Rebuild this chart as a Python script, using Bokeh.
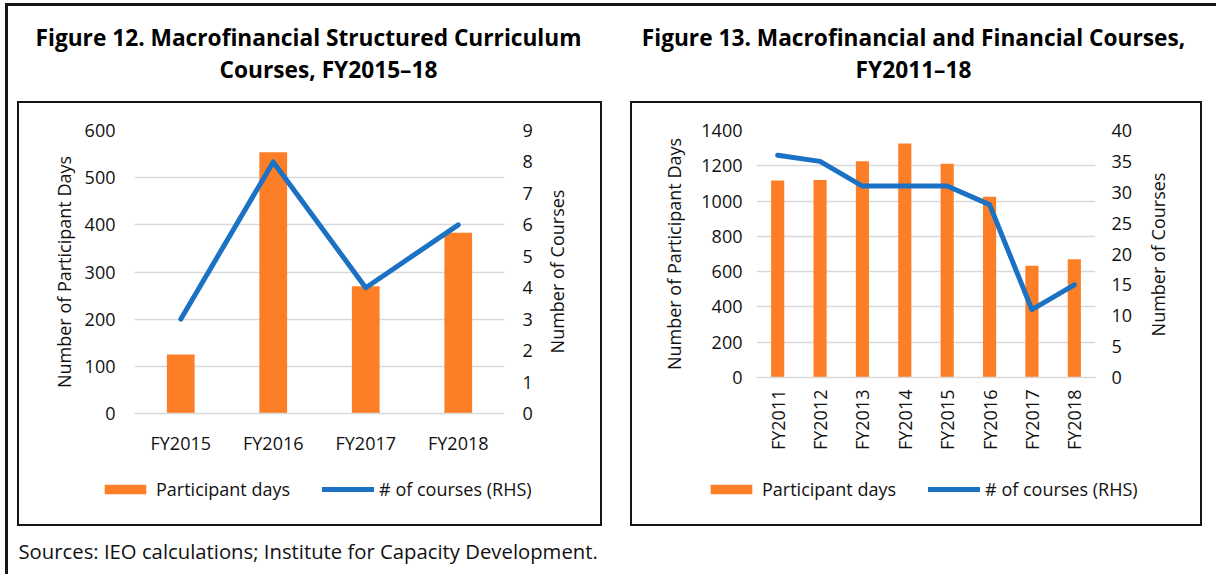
import math
from bokeh.plotting import figure
from bokeh.models import (Range1d, LinearAxis, FixedTicker, Legend, LegendItem,
                          Label, Spacer, FactorRange)
from bokeh.layouts import column, row
from bokeh.embed import file_html
from bokeh.resources import INLINE

# ---------------- data ----------------
fig12_years = ["FY2015", "FY2016", "FY2017", "FY2018"]
fig12_participant_days = [125, 554, 270, 383]
fig12_courses = [3, 8, 4, 6]
fig12_left_ticks = [0, 100, 200, 300, 400, 500, 600]
fig12_right_ticks = [0, 1, 2, 3, 4, 5, 6, 7, 8, 9]

fig13_years = ["FY2011", "FY2012", "FY2013", "FY2014",
               "FY2015", "FY2016", "FY2017", "FY2018"]
fig13_participant_days = [1117, 1119, 1226, 1326, 1211, 1025, 634, 670]
fig13_courses = [36, 35, 31, 31, 31, 28, 11, 15]
fig13_left_ticks = [0, 200, 400, 600, 800, 1000, 1200, 1400]
fig13_right_ticks = [0, 5, 10, 15, 20, 25, 30, 35, 40]

title12_lines = ["Figure 12. Macrofinancial Structured Curriculum",
                 "Courses, FY2015\u201318"]
title13_lines = ["Figure 13. Macrofinancial and Financial Courses,",
                 "FY2011\u201318"]
footnote = "Sources: IEO calculations; Institute for Capacity Development."
left_label = "Number of Participant Days"
right_label = "Number of Courses"
legend_labels = ["Participant days", "# of courses (RHS)"]

# ---------------- style ----------------
FONT = "Open Sans"
ORANGE = "#FC7F27"
BLUE = "#1B72C4"
GRID = "#D9D9D9"
TXT = "#111111"
BOX = "#151515"
FS = "18px"


def no_align(f):
    if "frame_align" in f.properties():
        f.frame_align = False
    return f


def bar(w, h, color=BOX):
    return Spacer(width=w, height=h, styles={"background-color": color})


def add_series(f, years, days, courses, bar_w, right_name=None):
    r_bar = f.vbar(x=years, top=days, width=bar_w, color=ORANGE, line_color=None)
    kw = {"y_range_name": right_name} if right_name else {}
    r_line = f.line(x=years, y=courses, line_color=BLUE, line_width=5,
                    line_cap="round", line_join="round", **kw)
    return r_bar, r_line


def blank_fig(width, height, x_range=None, y_range=None):
    f = figure(width=width, height=height, title=None,
               x_range=x_range if x_range is not None else Range1d(0, 1),
               y_range=y_range if y_range is not None else Range1d(0, 1),
               output_backend="svg", toolbar_location=None, min_border=0,
               x_axis_location=None, y_axis_location=None,
               background_fill_color="white", border_fill_color="white")
    no_align(f)
    f.outline_line_color = None
    f.grid.visible = False
    return f


def make_chart(years, days, courses, left_ticks, right_ticks, width, height,
               b_left, b_right, b_top, b_bottom, bar_w, rotate,
               xlab_standoff, left_std, left_lab_std, right_std):
    p = figure(x_range=years, width=width, height=height, title=None,
               y_range=Range1d(0, left_ticks[-1]),
               output_backend="svg", toolbar_location=None,
               min_border_left=b_left, min_border_right=b_right,
               min_border_top=b_top, min_border_bottom=b_bottom,
               background_fill_color="white", border_fill_color="white")
    no_align(p)
    p.outline_line_color = None
    p.extra_y_ranges = {"right": Range1d(0, right_ticks[-1])}

    add_series(p, years, days, courses, bar_w, "right")

    p.xgrid.grid_line_color = None
    p.ygrid.grid_line_color = GRID
    p.ygrid.grid_line_width = 1.5

    ya = p.yaxis[0]
    ya.ticker = FixedTicker(ticks=left_ticks)
    ya.axis_label = left_label
    ya.major_label_standoff = left_std
    ya.axis_label_standoff = left_lab_std

    ra = LinearAxis(y_range_name="right", ticker=FixedTicker(ticks=right_ticks))
    ra.major_label_standoff = right_std
    p.add_layout(ra, "right")

    for ax in (ya, ra):
        ax.axis_line_color = None
        ax.major_tick_line_color = None
        ax.minor_tick_line_color = None
        ax.major_tick_out = 0
        ax.major_tick_in = 0
        ax.major_label_text_font = FONT
        ax.major_label_text_font_size = FS
        ax.major_label_text_color = TXT
        ax.axis_label_text_font = FONT
        ax.axis_label_text_font_size = FS
        ax.axis_label_text_font_style = "normal"
        ax.axis_label_text_color = TXT

    xa = p.xaxis[0]
    xa.axis_line_color = GRID
    xa.axis_line_width = 1.5
    xa.major_tick_line_color = None
    xa.minor_tick_line_color = None
    xa.major_tick_out = 0
    xa.major_tick_in = 0
    xa.major_label_standoff = xlab_standoff
    xa.major_label_text_font = FONT
    xa.major_label_text_font_size = FS
    xa.major_label_text_color = TXT
    if rotate:
        xa.major_label_orientation = math.pi / 2
    return p


def right_title_fig(width, height, x, y):
    f = blank_fig(width, height)
    f.add_layout(Label(x=x, y=y, x_units="screen", y_units="screen",
                       text=right_label, angle=math.pi / 2,
                       text_align="center", text_baseline="middle",
                       text_font=FONT, text_font_size=FS, text_color=TXT))
    return f


def legend_fig(years, days, courses, width, height, bar_w, loc, spacing):
    # legend-only strip: the series renderers are hidden, only keys are shown
    f = blank_fig(width, height, x_range=FactorRange(factors=years),
                  y_range=Range1d(-2, -1))
    r_bar, r_line = add_series(f, years, days, courses, bar_w)
    r_bar.visible = False
    r_line.visible = False
    legend = Legend(items=[LegendItem(label=legend_labels[0], renderers=[r_bar]),
                           LegendItem(label=legend_labels[1], renderers=[r_line])],
                    orientation="horizontal", location=loc,
                    glyph_width=52, glyph_height=12, label_standoff=5,
                    spacing=spacing, padding=0, margin=0,
                    border_line_color=None, background_fill_alpha=0,
                    inactive_fill_alpha=0,
                    label_text_font=FONT, label_text_font_size=FS,
                    label_text_color=TXT)
    f.add_layout(legend)
    return f


# Figure 12: box interior 581 x 421 at (19, 103)
p12 = make_chart(fig12_years, fig12_participant_days, fig12_courses,
                 fig12_left_ticks, fig12_right_ticks, 526, 370,
                 115, 41, 27, 60, 0.30, False,
                 17, 19, 6, 18)
r12 = right_title_fig(55, 370, 11, 202)
l12 = legend_fig(fig12_years, fig12_participant_days, fig12_courses,
                 581, 51, 0.30, (80, 23), 32)

# Figure 13: box interior 568 x 421 at (632, 103)
p13 = make_chart(fig13_years, fig13_participant_days, fig13_courses,
                 fig13_left_ticks, fig13_right_ticks, 513, 364,
                 124, 50, 27, 90, 0.31, True,
                 12, 14, 12, 16)
r13 = right_title_fig(55, 364, 12, 213)
l13 = legend_fig(fig13_years, fig13_participant_days, fig13_courses,
                 568, 57, 0.31, (73, 23), 32)


def boxed(inner, w, h, t=2):
    return column(bar(w, t),
                  row(bar(t, h - 2 * t), inner, bar(t, h - 2 * t), spacing=0),
                  bar(w, t), spacing=0)


def tlabel(text, x, y):
    return Label(x=x, y=y, x_units="screen", y_units="screen", text=text,
                 text_align="center", text_baseline="middle",
                 text_font=FONT, text_font_size="22.7px",
                 text_font_style="bold", text_color="#000000")


titles = blank_fig(1208, 95)
for lb in [tlabel(title12_lines[0], 300, 64), tlabel(title12_lines[1], 320, 32),
           tlabel(title13_lines[0], 905, 64), tlabel(title13_lines[1], 905, 32)]:
    titles.add_layout(lb)

foot = blank_fig(1208, 48)
foot.add_layout(Label(x=10, y=24, x_units="screen", y_units="screen",
                      text=footnote, text_align="left", text_baseline="middle",
                      text_font=FONT, text_font_size="20.3px", text_color=TXT))

box12 = boxed(column(row(p12, r12, spacing=0), l12, spacing=0), 585, 425)
box13 = boxed(column(row(p13, r13, spacing=0), l13, spacing=0), 572, 425)

charts = row(Spacer(width=9, height=425), box12,
             Spacer(width=28, height=425), box13, spacing=0)

content = column(titles, charts, foot, spacing=0)
framed = column(bar(1211, 3), row(bar(3, 568), content, spacing=0), spacing=0)
root = column(Spacer(width=1211, height=3),
              row(Spacer(width=5, height=571), framed, spacing=0), spacing=0)

open("out.html", "w").write(file_html(root, INLINE))
